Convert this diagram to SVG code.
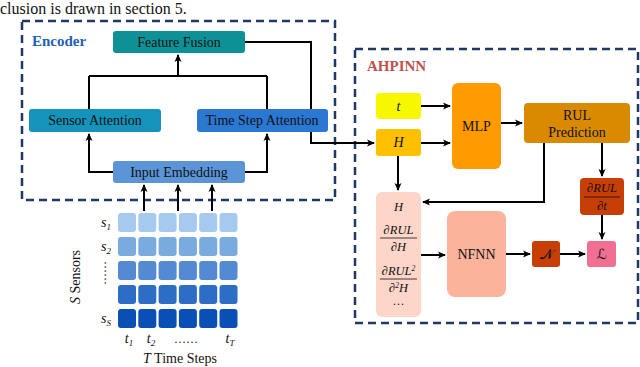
<svg xmlns="http://www.w3.org/2000/svg" width="640" height="367" viewBox="0 0 640 367">
<defs>
<marker id="ah" markerWidth="8" markerHeight="8" refX="7" refY="4" orient="auto" markerUnits="userSpaceOnUse">
<path d="M0,0.5 L8,4 L0,7.5 L2,4 Z" fill="#000"/>
</marker>
<style>
.t{font-family:"Liberation Serif","Times New Roman",serif;font-size:14px;fill:#111;text-anchor:middle}
.i{font-style:italic}
.f{font-size:12.5px}
.c{stroke:#000;stroke-width:2;fill:none}
.a{marker-end:url(#ah)}
.dash{fill:none;stroke:#1f3864;stroke-width:2.5;stroke-dasharray:8 5}
.sym{font-family:"DejaVu Sans",sans-serif;font-size:14px;fill:#111;text-anchor:middle}
.bar{stroke:#111;stroke-width:0.8}
</style>
</defs>
<rect width="640" height="367" fill="#fff"/>
<text x="0" y="14" style="font-family:'Liberation Serif',serif;font-size:16px;fill:#111">clusion is drawn in section 5.</text>

<g id="encoder-frame">
<rect class="dash" x="22" y="21" width="313" height="179"/>
<text x="32" y="46" style="font-family:'Liberation Serif',serif;font-size:15px;font-weight:bold;fill:#1f5fb5">Encoder</text>
</g>
<g id="ahpinn-frame">
<rect class="dash" x="355" y="49" width="283" height="274"/>
<text x="367" y="71" style="font-family:'Liberation Serif',serif;font-size:15px;font-weight:bold;fill:#c0504d">AHPINN</text>
</g>

<g id="connectors">
<path class="c a" d="M89,76 L267,76 M178,76 L178,55"/>
<path class="c" d="M89,109 L89,76 M267,109 L267,76"/>
<path class="c a" d="M113,172 L89,172 L89,134"/>
<path class="c a" d="M245,172 L267,172 L267,134"/>
<path class="c a" d="M245,42 L311,42 L311,143 L374,143"/>
<path class="c a" d="M144,211 L144,185"/>
<path class="c a" d="M178,211 L178,185"/>
<path class="c a" d="M212,211 L212,185"/>
<path class="c a" d="M421,106 L450,106"/>
<path class="c a" d="M421,143 L450,143"/>
<path class="c a" d="M501,123 L522,123"/>
<path class="c a" d="M398,156 L398,190"/>
<path class="c a" d="M544,143 L544,202 L423,202"/>
<path class="c a" d="M602,143 L602,176"/>
<path class="c a" d="M602,215 L602,239"/>
<path class="c a" d="M421,255 L445,255"/>
<path class="c a" d="M506,254 L530,254"/>
<path class="c a" d="M560,254 L585,254"/>
</g>

<g id="feature-fusion">
<rect x="113" y="31" width="132" height="22" rx="3" fill="#0e9196"/>
<text class="t" x="179" y="47">Feature Fusion</text>
</g>
<g id="sensor-attention">
<rect x="29" y="109" width="132" height="23" rx="3" fill="#1693bb"/>
<text class="t" x="95" y="125">Sensor Attention</text>
</g>
<g id="time-step-attention">
<rect x="197" y="109" width="131" height="23" rx="3" fill="#2b78d3"/>
<text class="t" x="262" y="125">Time Step Attention</text>
</g>
<g id="input-embedding">
<rect x="113" y="161" width="132" height="22" rx="3" fill="#5b95d8"/>
<text class="t" x="179" y="177">Input Embedding</text>
</g>

<g id="input-grid">
<g fill="#a6caef">
<rect x="118" y="213" width="18" height="19" rx="3"/><rect x="138.3" y="213" width="18" height="19" rx="3"/><rect x="158.6" y="213" width="18" height="19" rx="3"/><rect x="178.9" y="213" width="18" height="19" rx="3"/><rect x="199.2" y="213" width="18" height="19" rx="3"/><rect x="219.5" y="213" width="18" height="19" rx="3"/>
</g>
<g fill="#7aabdf">
<rect x="118" y="237" width="18" height="19" rx="3"/><rect x="138.3" y="237" width="18" height="19" rx="3"/><rect x="158.6" y="237" width="18" height="19" rx="3"/><rect x="178.9" y="237" width="18" height="19" rx="3"/><rect x="199.2" y="237" width="18" height="19" rx="3"/><rect x="219.5" y="237" width="18" height="19" rx="3"/>
</g>
<g fill="#538ad3">
<rect x="118" y="261" width="18" height="19" rx="3"/><rect x="138.3" y="261" width="18" height="19" rx="3"/><rect x="158.6" y="261" width="18" height="19" rx="3"/><rect x="178.9" y="261" width="18" height="19" rx="3"/><rect x="199.2" y="261" width="18" height="19" rx="3"/><rect x="219.5" y="261" width="18" height="19" rx="3"/>
</g>
<g fill="#2d6dc6">
<rect x="118" y="285" width="18" height="19" rx="3"/><rect x="138.3" y="285" width="18" height="19" rx="3"/><rect x="158.6" y="285" width="18" height="19" rx="3"/><rect x="178.9" y="285" width="18" height="19" rx="3"/><rect x="199.2" y="285" width="18" height="19" rx="3"/><rect x="219.5" y="285" width="18" height="19" rx="3"/>
</g>
<g fill="#0a4fb6">
<rect x="118" y="309" width="18" height="19" rx="3"/><rect x="138.3" y="309" width="18" height="19" rx="3"/><rect x="158.6" y="309" width="18" height="19" rx="3"/><rect x="178.9" y="309" width="18" height="19" rx="3"/><rect x="199.2" y="309" width="18" height="19" rx="3"/><rect x="219.5" y="309" width="18" height="19" rx="3"/>
</g>
<text class="t i" x="106" y="227">s<tspan font-size="9" dy="3">1</tspan></text>
<text class="t i" x="106" y="251">s<tspan font-size="9" dy="3">2</tspan></text>
<text class="t" x="106" y="273" transform="rotate(-90 106 273)" style="font-size:12px">……</text>
<text class="t i" x="106" y="323">s<tspan font-size="9" dy="3">S</tspan></text>
<text class="t" x="80" y="277" transform="rotate(-90 80 277)"><tspan font-style="italic">S</tspan> Sensors</text>
<text class="t i" x="129" y="343">t<tspan font-size="9" dy="3">1</tspan></text>
<text class="t i" x="151" y="343">t<tspan font-size="9" dy="3">2</tspan></text>
<text class="t" x="186" y="343" style="font-size:12px">……</text>
<text class="t i" x="230" y="343">t<tspan font-size="9" dy="3">T</tspan></text>
<text class="t" x="180" y="363"><tspan font-style="italic">T</tspan> Time Steps</text>
</g>

<g id="t-input">
<rect x="376" y="93" width="45" height="26" rx="3" fill="#f7f700"/>
<text class="t i" x="398.5" y="111">t</text>
</g>
<g id="h-input">
<rect x="376" y="129" width="45" height="27" rx="3" fill="#ffc000"/>
<text class="t i" x="398.5" y="147">H</text>
</g>
<g id="mlp">
<rect x="452" y="83" width="49" height="86" rx="6" fill="#ff9a00"/>
<text class="t" x="476.5" y="131">MLP</text>
</g>
<g id="rul-prediction">
<rect x="524" y="103" width="106" height="40" rx="4" fill="#d98a00"/>
<text class="t" x="577" y="120">RUL</text>
<text class="t" x="577" y="137">Prediction</text>
</g>
<g id="drul-dt">
<rect x="580" y="178" width="44" height="37" rx="4" fill="#c73e06"/>
<text class="t i f" x="602" y="192">∂RUL</text>
<line class="bar" x1="584" y1="197" x2="620" y2="197"/>
<text class="t i f" x="602" y="210">∂t</text>
</g>
<g id="derivatives">
<rect x="376" y="192" width="45" height="125" rx="6" fill="#fdd6c9"/>
<text class="t i f" x="398.5" y="211">H</text>
<text class="t i f" x="398.5" y="234">∂RUL</text>
<line class="bar" x1="380" y1="238" x2="417" y2="238"/>
<text class="t i f" x="398.5" y="251">∂H</text>
<text class="t i f" x="398.5" y="275">∂RUL<tspan font-size="7.5" dy="-4">2</tspan></text>
<line class="bar" x1="380" y1="279" x2="417" y2="279"/>
<text class="t i f" x="398.5" y="292">∂<tspan font-size="7.5" dy="-4">2</tspan><tspan dy="4">H</tspan></text>
<text class="t" x="398.5" y="308" style="font-size:12px">···</text>
</g>
<g id="nfnn">
<rect x="447" y="211" width="59" height="86" rx="8" fill="#fbb49b"/>
<text class="t" x="476.5" y="259">NFNN</text>
</g>
<g id="n-node">
<rect x="532" y="241" width="28" height="26" rx="3" fill="#c73e06"/>
<text class="sym" x="546" y="259">𝒩</text>
</g>
<g id="loss">
<rect x="587" y="241" width="29" height="26" rx="3" fill="#f06f93"/>
<text class="sym" x="601.5" y="259">ℒ</text>
</g>
</svg>
